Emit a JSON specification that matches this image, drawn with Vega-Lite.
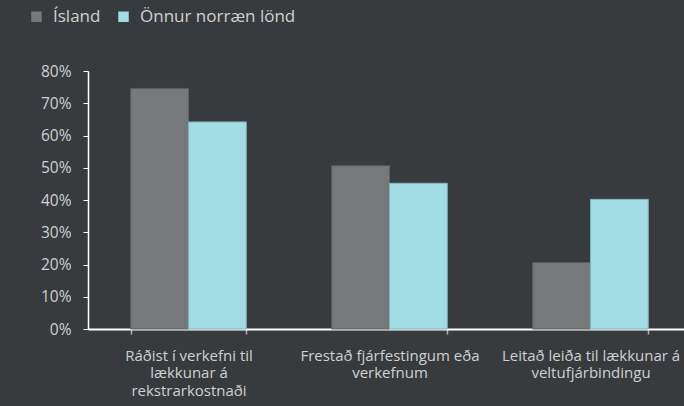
{
  "$schema": "https://vega.github.io/schema/vega-lite/v6.json",
  "autosize": "none",
  "width": 596,
  "height": 258,
  "padding": {"left": 88, "top": 71, "right": 0, "bottom": 77},
  "background": "#383b3d",
  "config": {
    "view": {"stroke": null},
    "font": "Open Sans",
    "axis": {"labelFont": "Open Sans", "labelColor": "#cfd0d0", "titleColor": "#cfd0d0"},
    "legend": {"labelFont": "Open Sans"}
  },
  "data": {
    "values": [
      {"category": "Ráðist í verkefni til|lækkunar á|rekstrarkostnaði", "group": "Ísland", "value": 0.746},
      {"category": "Ráðist í verkefni til|lækkunar á|rekstrarkostnaði", "group": "Önnur norræn lönd", "value": 0.642},
      {"category": "Frestað fjárfestingum eða|verkefnum", "group": "Ísland", "value": 0.506},
      {"category": "Frestað fjárfestingum eða|verkefnum", "group": "Önnur norræn lönd", "value": 0.452},
      {"category": "Leitað leiða til lækkunar á|veltufjárbindingu", "group": "Ísland", "value": 0.206},
      {"category": "Leitað leiða til lækkunar á|veltufjárbindingu", "group": "Önnur norræn lönd", "value": 0.402}
    ]
  },
  "mark": {"type": "bar", "strokeWidth": 1},
  "encoding": {
    "x": {
      "field": "category",
      "type": "nominal",
      "sort": null,
      "scale": {"range": [0, 603], "paddingInner": 0.425, "paddingOuter": 0.2125},
      "axis": {
        "title": null,
        "labelAngle": 0,
        "labelExpr": "split(datum.label, '|')",
        "labelFontSize": 15,
        "labelLineHeight": 17.5,
        "labelPadding": 14,
        "labelLimit": 300,
        "domainColor": "#ffffff",
        "domainWidth": 2,
        "tickBand": "extent",
        "tickColor": "#b0b0b0",
        "tickSize": 5,
        "tickWidth": 1.5
      }
    },
    "xOffset": {
      "field": "group",
      "type": "nominal",
      "sort": ["Ísland", "Önnur norræn lönd"],
      "scale": {"paddingInner": 0, "paddingOuter": 0}
    },
    "y": {
      "field": "value",
      "type": "quantitative",
      "scale": {"domain": [0, 0.8]},
      "axis": {
        "title": null,
        "format": ".0%",
        "values": [0, 0.1, 0.2, 0.3, 0.4, 0.5, 0.6, 0.7, 0.8],
        "grid": false,
        "labelFontSize": 15.5,
        "labelPadding": 12,
        "domainColor": "#ffffff",
        "domainWidth": 1.5,
        "tickColor": "#ffffff",
        "tickSize": 5,
        "tickWidth": 1
      }
    },
    "color": {
      "field": "group",
      "type": "nominal",
      "sort": ["Ísland", "Önnur norræn lönd"],
      "scale": {"domain": ["Ísland", "Önnur norræn lönd"], "range": ["#77787a", "#a2dce4"]},
      "legend": {
        "title": null,
        "orient": "none",
        "direction": "horizontal",
        "legendX": -60,
        "legendY": -63,
        "symbolType": "square",
        "symbolSize": 110,
        "symbolStrokeWidth": 0,
        "labelFontSize": 17,
        "labelColor": "#cfd0d0",
        "columnPadding": 14,
        "labelOffset": 8
      }
    },
    "stroke": {
      "field": "group",
      "type": "nominal",
      "scale": {"domain": ["Ísland", "Önnur norræn lönd"], "range": ["#5e5f61", "#7fb4bc"]},
      "legend": null
    }
  }
}
